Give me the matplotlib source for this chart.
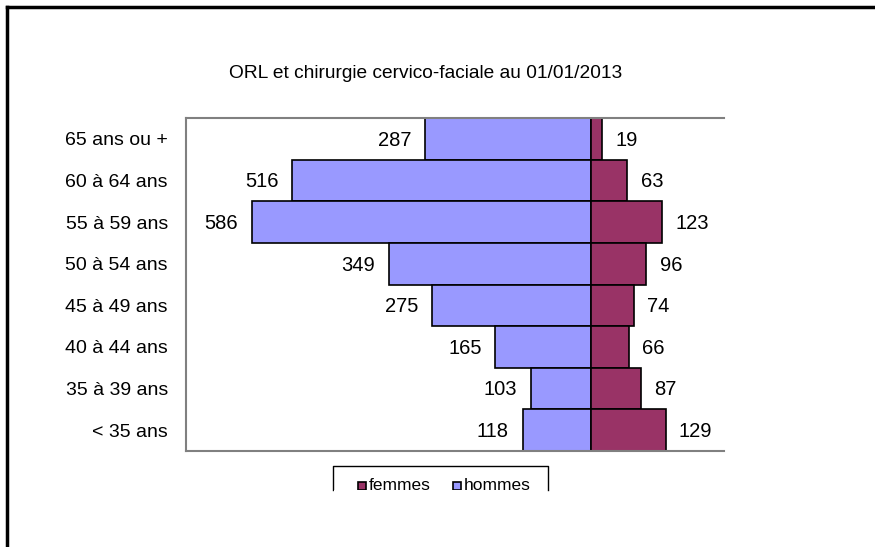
import matplotlib.pyplot as plt
from matplotlib.patches import Rectangle
from matplotlib.lines import Line2D

plt.rcParams['font.family'] = ['Liberation Sans', 'DejaVu Sans']

# data (top to bottom as in the picture)
ages = ['65 ans ou +', '60 à 64 ans', '55 à 59 ans', '50 à 54 ans',
        '45 à 49 ans', '40 à 44 ans', '35 à 39 ans', '< 35 ans']
hommes = [287, 516, 586, 349, 275, 165, 103, 118]
femmes = [19, 63, 123, 96, 74, 66, 87, 129]

col_h = '#9999FF'
col_f = '#993366'

W, H = 875, 547
fig = plt.figure(figsize=(W / 100, H / 100), dpi=100)
ax = fig.add_axes([186 / W, 1 - 451 / H, (724 - 186) / W, (451 - 118) / H])

y = list(range(len(ages)))
ax.barh(y, [-v for v in hommes], height=1.0, color=col_h, edgecolor='black', linewidth=1.2)
ax.barh(y, femmes, height=1.0, color=col_f, edgecolor='black', linewidth=1.2)

for i in y:
    ax.annotate(str(hommes[i]), (-hommes[i], i), xytext=(-10, -1), textcoords='offset points',
                ha='right', va='center', fontsize=14.5)
    ax.annotate(str(femmes[i]), (femmes[i], i), xytext=(9.5, -1), textcoords='offset points',
                ha='left', va='center', fontsize=14.5)

ax.set_xlim(-700, 230)
ax.set_ylim(len(ages) - 0.5, -0.5)
ax.set_yticks(y)
ax.set_yticklabels(ages, fontsize=14)
ax.tick_params(axis='y', length=0, pad=13)
ax.set_xticks([])
for s in ['left', 'top', 'bottom']:
    ax.spines[s].set_color('#808080')
    ax.spines[s].set_linewidth(1.5)
ax.spines['right'].set_visible(False)

fig.text(426 / W, 1 - 73 / H, 'ORL et chirurgie cervico-faciale au 01/01/2013',
         ha='center', va='center', fontsize=13.8)

# outer frame (left and top only)
fig.add_artist(Line2D([7 / W, 7 / W], [0, 1 - 7 / H], color='black', linewidth=2.5))
fig.add_artist(Line2D([7 / W, 1], [1 - 7 / H, 1 - 7 / H], color='black', linewidth=2.5))

# legend, cut off at the bottom like the source
bx0, bx1, by0, by1 = 333, 548, 466, 490
fig.add_artist(Line2D([bx0 / W, bx0 / W, bx1 / W, bx1 / W],
                      [1 - by1 / H, 1 - by0 / H, 1 - by0 / H, 1 - by1 / H],
                      color='black', linewidth=1.0))
for lx, lab, c in [(358, 'femmes', col_f), (453, 'hommes', col_h)]:
    fig.add_artist(Rectangle((lx / W, 1 - 490 / H), 8 / W, 8 / H, facecolor=c,
                             edgecolor='black', linewidth=1.2, transform=fig.transFigure))
    fig.text((lx + 11) / W, 1 - 486 / H, lab, ha='left', va='center', fontsize=12.5)
fig.add_artist(Rectangle(((bx0 + 1) / W, 1 - 505 / H), (bx1 - bx0 - 2) / W, 15 / H,
                         facecolor='white', edgecolor='none', transform=fig.transFigure,
                         zorder=10))

fig.savefig('out.png', dpi=100)
